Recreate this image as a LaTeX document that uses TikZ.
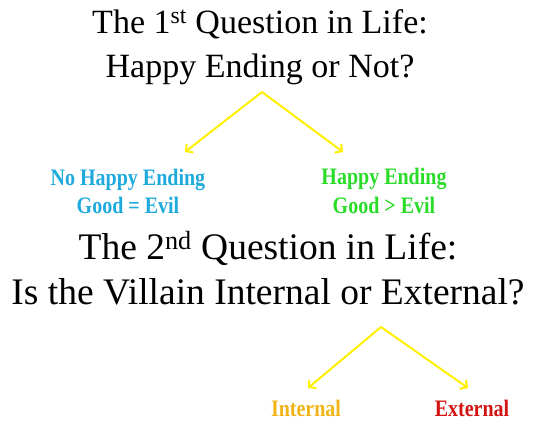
\documentclass[tikz,border=0pt]{standalone}
\usepackage{fontspec}
\setmainfont{Liberation Serif}
\usetikzlibrary{arrows.meta}
\definecolor{arrowyellow}{RGB}{255,240,0}
\definecolor{noblue}{RGB}{30,170,220}
\definecolor{happygreen}{RGB}{40,220,40}
\definecolor{intorange}{RGB}{240,180,20}
\definecolor{extred}{RGB}{210,20,20}
\newcommand{\tallbox}[1]{\scalebox{1}[1.18]{#1}}
\tikzset{
  titleA/.style={anchor=base, inner sep=0pt, font=\fontsize{34}{40}\selectfont},
  titleB/.style={anchor=base, inner sep=0pt, font=\fontsize{37.5}{42}\selectfont},
  label/.style={anchor=base, inner sep=0pt, font=\fontsize{20}{24}\selectfont\bfseries},
  branch/.style={draw=arrowyellow, line width=2pt, -{Straight Barb[length=5pt,width=11pt,line width=2pt]}}
}
\begin{document}
\begin{tikzpicture}[x=1pt,y=-1pt]
\useasboundingbox (0,0) rectangle (534,423);
\node[titleA] (t1a) at (260,33) {The 1\textsuperscript{st} Question in Life:};
\node[titleA] (t1b) at (260,77) {Happy Ending or Not?};
\coordinate (a1) at (262,92);
\coordinate (l1) at (185,152);
\coordinate (r1) at (343,152);
\draw[branch] (a1) -- (l1);
\draw[branch] (a1) -- (r1);
\node[label, text=noblue] (nohe) at (128,185) {\tallbox{No Happy Ending}};
\node[label, text=noblue] (geq) at (128,213) {\tallbox{Good = Evil}};
\node[label, text=happygreen] (he) at (384,184) {\tallbox{Happy Ending}};
\node[label, text=happygreen] (ggt) at (384,213) {\tallbox{Good > Evil}};
\node[titleB] (t2a) at (268,259) {The 2\textsuperscript{nd} Question in Life:};
\node[titleB] (t2b) at (268,304) {Is the Villain Internal or External?};
\coordinate (a2) at (381,327);
\coordinate (l2) at (308,388);
\coordinate (r2) at (468,388);
\draw[branch] (a2) -- (l2);
\draw[branch] (a2) -- (r2);
\node[label, text=intorange] (int) at (306,416) {\tallbox{Internal}};
\node[label, text=extred] (ext) at (472,416) {\tallbox{External}};
\end{tikzpicture}
\end{document}
